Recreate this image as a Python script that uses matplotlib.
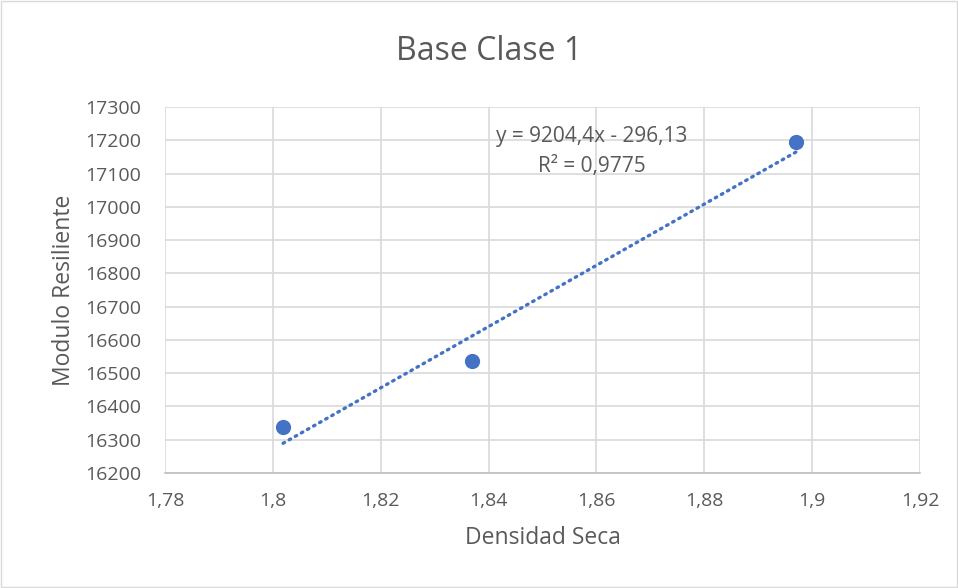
import matplotlib.pyplot as plt
from matplotlib.patches import Rectangle
from matplotlib.ticker import FuncFormatter

# densidad seca vs modulo resiliente
densidad = [1.8019, 1.8370, 1.8970]
modulo = [16339, 16538, 17196]

# tendencia lineal (Excel)
pendiente = 9204.4
intercepto = -296.13
r2 = 0.9775

x_ticks = [1.78, 1.80, 1.82, 1.84, 1.86, 1.88, 1.90, 1.92]
y_ticks = list(range(16200, 17301, 100))

azul = '#4472C4'
gris_txt = '#595959'
gris_grid = '#d9d9d9'

plt.rcParams['font.family'] = ['Open Sans', 'DejaVu Sans']

fig = plt.figure(figsize=(9.58, 5.88), dpi=100)
ax = fig.add_axes([0.1722, 0.1956, 0.7881, 0.6224])

# borde del area del grafico
fig.patches.append(Rectangle((0.001, 0.001), 0.998, 0.998, transform=fig.transFigure,
                             fill=False, edgecolor='#d9d9d9', linewidth=1))

xs = [min(densidad), max(densidad)]
ys = [pendiente * x + intercepto for x in xs]
ax.plot(xs, ys, color=azul, linewidth=2.4, linestyle=(0, (0.5, 1.6)),
        dash_capstyle='round', zorder=2)
ax.scatter(densidad, modulo, s=120, color=azul, zorder=3, linewidths=0)

ax.set_xlim(1.78, 1.92)
ax.set_ylim(16200, 17300)
ax.set_xticks(x_ticks)
ax.set_yticks(y_ticks)


def coma(v, pos):
    s = ('%.2f' % v).rstrip('0').rstrip('.')
    return s.replace('.', ',')


ax.xaxis.set_major_formatter(FuncFormatter(coma))
ax.yaxis.set_major_formatter(FuncFormatter(lambda v, p: '%d' % v))

ax.grid(True, color=gris_grid, linewidth=1.2)
ax.set_axisbelow(True)
for lado in ['left', 'top', 'right']:
    ax.spines[lado].set_visible(False)
ax.spines['bottom'].set_color('#bfbfbf')
ax.spines['bottom'].set_linewidth(1.2)
ax.tick_params(length=0, labelsize=14, colors=gris_txt)
ax.tick_params(axis='y', pad=17)
ax.tick_params(axis='x', pad=14)

ax.set_xlabel('Densidad Seca', fontsize=16.5, color=gris_txt, labelpad=11)
ax.set_ylabel('Modulo Resiliente', fontsize=16.5, color=gris_txt, labelpad=7)
fig.text(0.511, 0.912, 'Base Clase 1', ha='center', va='center', fontsize=23, color=gris_txt)

eq = 'y = %s - %s\nR² = %s' % (('%.1fx' % pendiente).replace('.', ','),
                                ('%.2f' % -intercepto).replace('.', ','),
                                ('%.4f' % r2).replace('.', ','))
ax.text(1.8592, 17167, eq, ha='center', va='center', fontsize=15, color=gris_txt,
        linespacing=1.55)

fig.savefig('out.png', dpi=100)
